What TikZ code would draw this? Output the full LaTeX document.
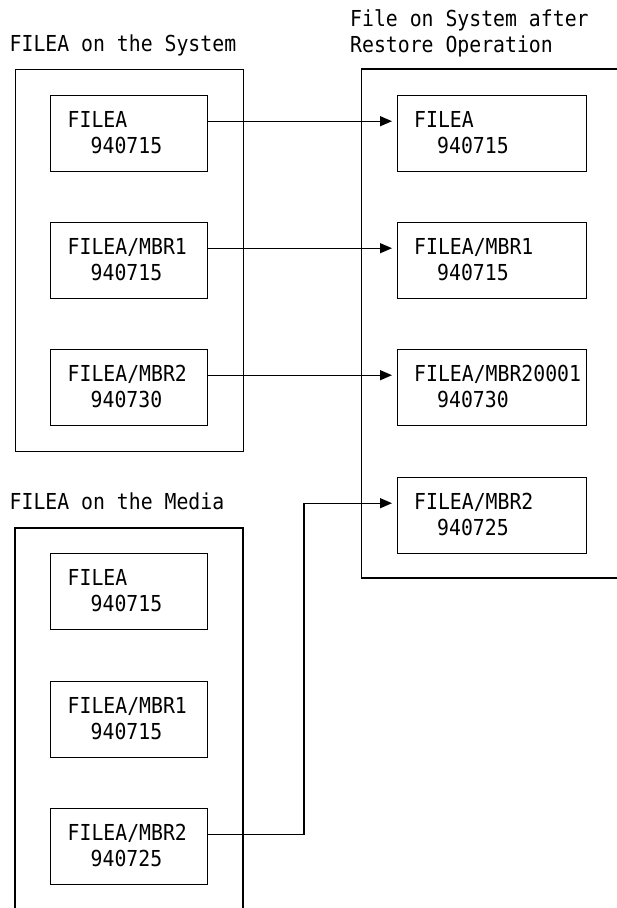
\documentclass[tikz,border=0pt]{standalone}
\usepackage{fontspec}
\newfontfamily\screenmono[FakeStretch=0.9]{DejaVu Sans Mono}
\usetikzlibrary{arrows.meta,calc}

% two-line entry: member name, then its date indented by two columns
\newcommand\fileentry[2]{\begin{tabular}[t]{@{}l@{}}#1\\\hspace*{23pt}#2\end{tabular}}
\newcommand\headlines[2]{\begin{tabular}[t]{@{}l@{}}#1\\#2\end{tabular}}

\tikzset{
  every node/.style={font=\screenmono\fontsize{22}{25.5}\selectfont},
  framebox/.style={draw, line width=1.4pt, inner sep=0pt, anchor=north west},
  filebox/.style={framebox, minimum width=157pt, minimum height=76pt},
  wfilebox/.style={framebox, minimum width=189pt, minimum height=76pt},
  entrytext/.style={anchor=base west, inner sep=0pt},
  heading/.style={anchor=base west, inner sep=0pt},
  outline/.style={line width=1.4pt},
  feed/.style={line width=1.3pt, -{Triangle[length=12pt,width=10pt]}, shorten >=5pt},
}

\begin{document}
\begin{tikzpicture}[x=1pt,y=-1pt]
  \useasboundingbox (0,0) rectangle (617,908);

  % headings
  \node[heading] (hsys) at (9.5,51.5) {FILEA on the System};
  \node[heading] (hmed) at (9.5,509.5) {FILEA on the Media};
  \node[heading] (hres) at (350,26.5) {\headlines{File on System after}{Restore Operation}};

  % outer frames
  \node[framebox, minimum width=228pt, minimum height=382pt] (sys) at (15,69) {};
  \draw[outline] (15,908) -- (15,528) -- (243,528) -- (243,908);
  \draw[outline] (617,69) -- (361.5,69) -- (361.5,578) -- (617,578);

  % members on the system
  \node[filebox] (l1) at (50,95)  {};
  \node[filebox] (l2) at (50,222) {};
  \node[filebox] (l3) at (50,349) {};
  % members on the media
  \node[filebox] (m1) at (50,553) {};
  \node[filebox] (m2) at (50,681) {};
  \node[filebox] (m3) at (50,808) {};
  % members after the restore
  \node[wfilebox] (r1) at (397,95)  {};
  \node[wfilebox] (r2) at (397,222) {};
  \node[wfilebox] (r3) at (397,349) {};
  \node[wfilebox] (r4) at (397,477) {};

  \node[entrytext] (tl1) at ($(l1.north west)+(17.5,32.7)$) {\fileentry{FILEA}{940715}};
  \node[entrytext] (tl2) at ($(l2.north west)+(17.5,32.7)$) {\fileentry{FILEA/MBR1}{940715}};
  \node[entrytext] (tl3) at ($(l3.north west)+(17.5,32.7)$) {\fileentry{FILEA/MBR2}{940730}};
  \node[entrytext] (tm1) at ($(m1.north west)+(17.5,32.7)$) {\fileentry{FILEA}{940715}};
  \node[entrytext] (tm2) at ($(m2.north west)+(17.5,32.7)$) {\fileentry{FILEA/MBR1}{940715}};
  \node[entrytext] (tm3) at ($(m3.north west)+(17.5,32.7)$) {\fileentry{FILEA/MBR2}{940725}};
  \node[entrytext] (tr1) at ($(r1.north west)+(17,32.7)$) {\fileentry{FILEA}{940715}};
  \node[entrytext] (tr2) at ($(r2.north west)+(17,32.7)$) {\fileentry{FILEA/MBR1}{940715}};
  \node[entrytext] (tr3) at ($(r3.north west)+(17,32.7)$) {\fileentry{FILEA/MBR20001}{940730}};
  \node[entrytext] (tr4) at ($(r4.north west)+(17,32.7)$) {\fileentry{FILEA/MBR2}{940725}};

  % connectors
  \draw[feed] ($(l1.east)+(0,-12.5)$) -- ($(r1.west)+(0,-12.5)$);
  \draw[feed] ($(l2.east)+(0,-12.5)$) -- ($(r2.west)+(0,-12.5)$);
  \draw[feed] ($(l3.east)+(0,-12.5)$) -- ($(r3.west)+(0,-12.5)$);
  \coordinate (m3out) at ($(m3.east)+(0,-12.5)$);
  \coordinate (r4in) at ($(r4.west)+(0,-12.5)$);
  \coordinate (bendx) at (304,0);
  \draw[feed] (m3out) -| (bendx |- r4in) -- (r4in);
\end{tikzpicture}
\end{document}
